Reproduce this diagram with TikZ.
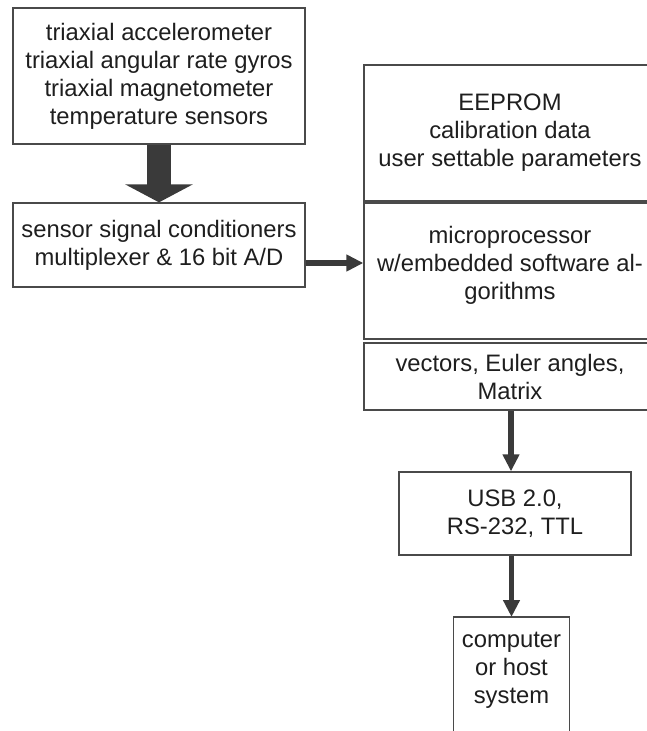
\documentclass[tikz,border=0pt]{standalone}
\usepackage{fontspec}
\setmainfont{Liberation Sans}
\usetikzlibrary{arrows.meta}
\definecolor{edge}{HTML}{4A4A4A}
\definecolor{ink}{HTML}{1E1E1E}
\definecolor{arrowfill}{HTML}{3A3A3A}
\begin{document}
\begin{tikzpicture}[x=1pt,y=-1pt,
  box/.style={draw=edge, line width=1.3pt, align=center, text=ink, inner sep=0pt,
    font=\fontsize{23.8pt}{28pt}\selectfont},
  plain/.style={align=center, text=ink, inner sep=0pt,
    font=\fontsize{23.8pt}{28pt}\selectfont},
  arr/.style={draw=arrowfill, line width=5.5pt,
    -{Triangle[width=16pt,length=17pt]}, arrowfill},
  bigarr/.style={draw=arrowfill, line width=24pt,
    -{Triangle[width=67pt,length=18pt]}, arrowfill}]
\useasboundingbox (0,0) rectangle (647,731);

% sensor side
\node[box, minimum width=292pt, minimum height=136pt] (sensors) at (159,76)
  {triaxial accelerometer\\triaxial angular rate gyros\\triaxial magnetometer\\temperature sensors};
\node[box, minimum width=292pt, minimum height=84pt] (cond) at (159,245)
  {sensor signal conditioners\\multiplexer \& 16 bit A/D};

% processing stack
\node[box, minimum width=292pt, minimum height=136pt] (eeprom) at (510,133)
  {EEPROM\\calibration data\\user settable parameters};
\node[box, minimum width=292pt, minimum height=136pt] (micro) at (510,271)
  {microprocessor\\w/embedded software al-\\gorithms\rule[-17pt]{0pt}{17pt}};
\node[box, minimum width=292pt, minimum height=67pt] (vec) at (510,376.5)
  {vectors, Euler angles,\\Matrix};

% output chain
\node[box, minimum width=232pt, minimum height=83pt] (usb) at (515,513.5)
  {USB 2.0,\\RS-232, TTL};
\node[plain, minimum width=115pt, anchor=north, inner ysep=15pt] (comp) at (511.5,617)
  {computer\\or host\\system};
\draw[draw=edge, line width=1.3pt]
  ([yshift=-60pt]comp.south west) -- (comp.north west) -- (comp.north east)
  -- ([yshift=-60pt]comp.south east);

% connectors
\draw[bigarr] (sensors.south) -- (cond.north);
\draw[arr] (cond.east |- 0,263) -- (micro.west |- 0,263);
\draw[arr] (vec.south -| 511,0) -- (usb.north -| 511,0);
\draw[arr] (usb.south -| comp.north) -- (comp.north);
\end{tikzpicture}
\end{document}
